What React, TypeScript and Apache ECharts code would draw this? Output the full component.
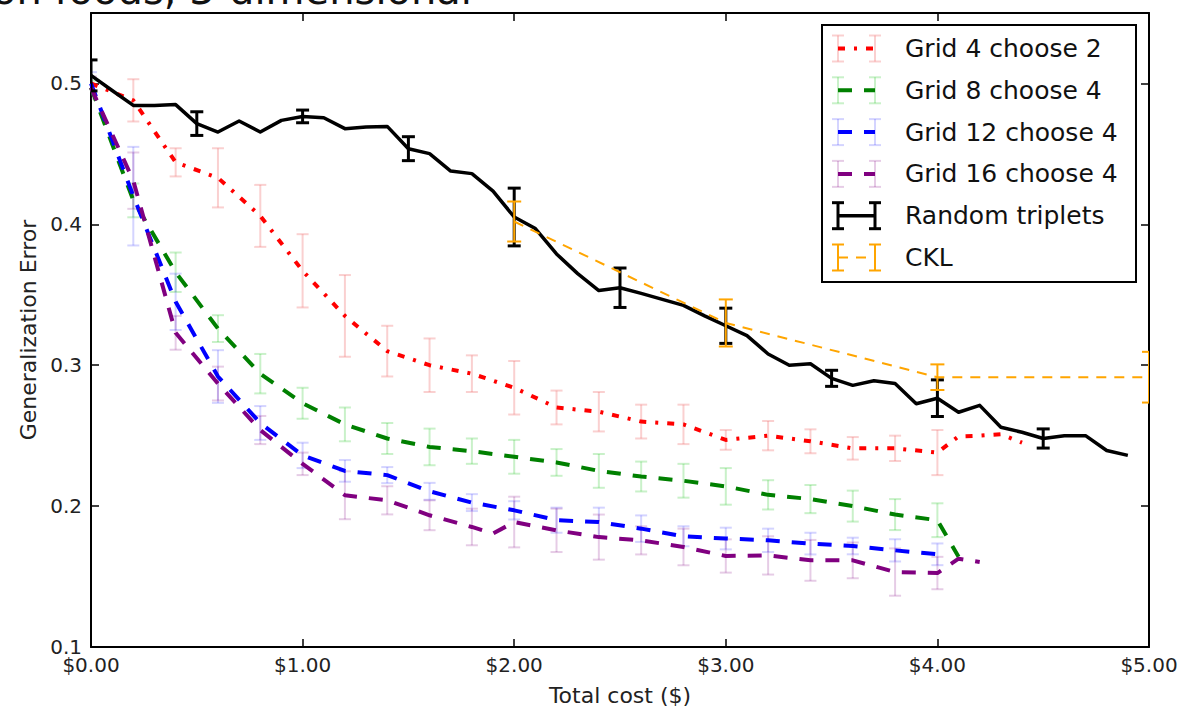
import React, { useEffect, useRef } from 'react';
import * as echarts from 'echarts';

const FONT = 'DejaVu Sans';

// Grid 4 choose 2
const g4X = [0, 0.2, 0.4, 0.6, 0.8, 1.0, 1.2, 1.4, 1.6, 1.8, 2.0, 2.2, 2.4, 2.6, 2.8, 3.0, 3.2, 3.4, 3.6, 3.8, 4.0, 4.1, 4.2, 4.3, 4.4];
const g4Y = [0.5, 0.488, 0.444, 0.433, 0.406, 0.367, 0.335, 0.31, 0.3, 0.294, 0.284, 0.27, 0.267, 0.26, 0.258, 0.247, 0.25, 0.246, 0.241, 0.241, 0.238, 0.2495, 0.25, 0.251, 0.245];
const g4Err = [null, 0.015, 0.01, 0.021, 0.022, 0.026, 0.029, 0.018, 0.019, 0.013, 0.019, 0.012, 0.014, 0.012, 0.014, 0.007, 0.0104, 0.0085, 0.008, 0.009, 0.016, null, null, null, null];

// Grid 8 choose 4
const g8X = [0, 0.2, 0.4, 0.6, 0.8, 1.0, 1.2, 1.4, 1.6, 1.8, 2.0, 2.2, 2.4, 2.6, 2.8, 3.0, 3.2, 3.4, 3.6, 3.8, 4.0, 4.1];
const g8Y = [0.497, 0.417, 0.366, 0.326, 0.294, 0.273, 0.258, 0.248, 0.242, 0.239, 0.235, 0.231, 0.225, 0.221, 0.218, 0.214, 0.208, 0.205, 0.2, 0.194, 0.19, 0.164];
const g8Err = [0.005, 0.012, 0.014, 0.0095, 0.014, 0.011, 0.012, 0.011, 0.013, 0.009, 0.012, 0.0095, 0.012, 0.0106, 0.012, 0.013, 0.0104, 0.01, 0.011, 0.011, 0.012, null];

// Grid 12 choose 4
const g12X = [0, 0.2, 0.4, 0.6, 0.8, 1.0, 1.2, 1.4, 1.6, 1.8, 2.0, 2.2, 2.4, 2.6, 2.8, 3.0, 3.2, 3.4, 3.6, 3.8, 4.0];
const g12Y = [0.5, 0.42, 0.345, 0.292, 0.259, 0.236, 0.225, 0.222, 0.2105, 0.2025, 0.197, 0.19, 0.1887, 0.184, 0.1786, 0.177, 0.1757, 0.1734, 0.1717, 0.1686, 0.1658];
const g12Err = [0.008, 0.035, 0.02, 0.0187, 0.012, 0.009, 0.0077, 0.0057, 0.006, 0.006, 0.0065, 0.0089, 0.0102, 0.0094, 0.0071, 0.0077, 0.0083, 0.0077, 0.0059, 0.0079, 0.0077];

// Grid 16 choose 4
const g16X = [0, 0.2, 0.4, 0.6, 0.8, 1.0, 1.2, 1.4, 1.6, 1.8, 1.9, 2.0, 2.2, 2.4, 2.6, 2.8, 3.0, 3.2, 3.4, 3.6, 3.8, 4.0, 4.1, 4.2];
const g16Y = [0.497, 0.431, 0.323, 0.287, 0.254, 0.23, 0.2077, 0.2041, 0.1935, 0.1852, 0.1805, 0.1887, 0.1828, 0.178, 0.1757, 0.171, 0.1646, 0.165, 0.1615, 0.1615, 0.1532, 0.1525, 0.1627, 0.1603];
const g16Err = [0.008, 0.02, 0.012, 0.012, 0.01, 0.008, 0.017, 0.01, 0.0106, 0.013, null, 0.018, 0.0154, 0.016, 0.01, 0.013, 0.0118, 0.0136, 0.0145, 0.0127, 0.0168, 0.0115, null, null];

// Random triplets
const rtX = [0, 0.1, 0.2, 0.3, 0.4, 0.5, 0.6, 0.7, 0.8, 0.9, 1.0, 1.1, 1.2, 1.3, 1.4, 1.5, 1.6, 1.7, 1.8, 1.9, 2.0, 2.1, 2.2, 2.3, 2.4, 2.5, 2.6, 2.7, 2.8, 2.9, 3.0, 3.1, 3.2, 3.3, 3.4, 3.5, 3.6, 3.7, 3.8, 3.9, 4.0, 4.1, 4.2, 4.3, 4.4, 4.5, 4.6, 4.7, 4.8, 4.9];
const rtY = [0.5057, 0.495, 0.4844, 0.4843, 0.485, 0.4715, 0.4655, 0.4733, 0.4655, 0.4738, 0.4766, 0.4757, 0.4679, 0.469, 0.4695, 0.4537, 0.4502, 0.4378, 0.436, 0.4236, 0.4052, 0.397, 0.379, 0.365, 0.353, 0.355, 0.351, 0.3467, 0.3425, 0.335, 0.328, 0.321, 0.308, 0.3, 0.301, 0.2907, 0.2857, 0.289, 0.287, 0.2727, 0.2766, 0.2666, 0.2715, 0.256, 0.2524, 0.248, 0.25, 0.25, 0.2395, 0.236];
const rtErr = [0.011, null, null, null, null, 0.0084, null, null, null, null, 0.0045, null, null, null, null, 0.0085, null, null, null, null, 0.0205, null, null, null, null, 0.014, null, null, null, null, 0.0125, null, null, null, null, 0.0057, null, null, null, null, 0.013, null, null, null, null, 0.0068, null, null, null, null];

// CKL
const cklX = [2.0, 3.0, 4.0, 5.0];
const cklY = [0.402, 0.33, 0.2915, 0.2915];
const cklErr = [0.0142, 0.0167, 0.0091, 0.018];

const xTicks = [0, 1, 2, 3, 4, 5];

type Num = number | null;

const pts = (xs: number[], ys: number[]) => xs.map((x, i) => [x, ys[i]]);
const bars = (xs: number[], ys: number[], es: Num[]) =>
  xs
    .map((x, i) => (es[i] == null ? null : [x, ys[i] - (es[i] as number), ys[i] + (es[i] as number)]))
    .filter((d) => d !== null) as number[][];

function errorBarSeries(data: number[][], color: string, width: number, capHalf: number, z: number) {
  return {
    type: 'custom',
    data,
    clip: true,
    z,
    encode: { x: 0, y: [1, 2] },
    silent: true,
    renderItem: (_p: any, api: any) => {
      const x = api.value(0);
      const top = api.coord([x, api.value(2)]);
      const bot = api.coord([x, api.value(1)]);
      const style = { stroke: color, lineWidth: width, fill: null };
      return {
        type: 'group',
        children: [
          { type: 'line', shape: { x1: top[0], y1: top[1], x2: bot[0], y2: bot[1] }, style },
          { type: 'line', shape: { x1: top[0] - capHalf, y1: top[1], x2: top[0] + capHalf, y2: top[1] }, style },
          { type: 'line', shape: { x1: bot[0] - capHalf, y1: bot[1], x2: bot[0] + capHalf, y2: bot[1] }, style },
        ],
      };
    },
  };
}

function lineSeries(name: string, data: number[][], color: string, width: number, dash: any, z: number) {
  return {
    type: 'line',
    name,
    data,
    z,
    showSymbol: false,
    symbol: 'none',
    silent: true,
    lineStyle: { color, width, type: dash, cap: 'butt', join: 'round' },
  };
}

const entries = [
  { label: 'Grid 4 choose 2', color: '#ff0000', bar: 'rgba(240,120,120,0.35)', dash: [7, 9, 3, 9], w: 4, solidBars: false },
  { label: 'Grid 8 choose 4', color: '#008000', bar: 'rgba(40,200,40,0.25)', dash: [14, 12], w: 4, solidBars: false },
  { label: 'Grid 12 choose 4', color: '#0000ff', bar: 'rgba(60,60,255,0.22)', dash: [14, 12], w: 4, solidBars: false },
  { label: 'Grid 16 choose 4', color: '#800080', bar: 'rgba(128,0,128,0.2)', dash: [14, 12], w: 4, solidBars: false },
  { label: 'Random triplets', color: '#000000', bar: '#000000', dash: 'solid', w: 3.5, solidBars: true },
  { label: 'CKL', color: '#ffa500', bar: '#ffa500', dash: [10, 8], w: 2, solidBars: true },
];

function legendGraphic() {
  const children: any[] = [
    { type: 'rect', shape: { x: 822, y: 25, width: 314, height: 257 }, style: { fill: '#fff', stroke: '#000', lineWidth: 2 } },
  ];
  entries.forEach((e, i) => {
    const yc = 48.5 + i * 41.8;
    const xa = 838;
    const xb = 875;
    const barW = e.solidBars ? (e.label === 'CKL' ? 2 : 3) : 2;
    [xa, xb].forEach((bx) => {
      children.push({ type: 'line', shape: { x1: bx, y1: yc - 13, x2: bx, y2: yc + 13 }, style: { stroke: e.bar, lineWidth: barW } });
      children.push({ type: 'line', shape: { x1: bx - 6, y1: yc - 13, x2: bx + 6, y2: yc - 13 }, style: { stroke: e.bar, lineWidth: barW } });
      children.push({ type: 'line', shape: { x1: bx - 6, y1: yc + 13, x2: bx + 6, y2: yc + 13 }, style: { stroke: e.bar, lineWidth: barW } });
    });
    children.push({
      type: 'line',
      shape: { x1: xa, y1: yc, x2: xb, y2: yc },
      style: { stroke: e.color, lineWidth: e.w, lineDash: e.dash === 'solid' ? null : e.dash },
    });
    children.push({
      type: 'text',
      x: 905,
      y: yc,
      style: { text: e.label, fill: '#111', font: `25px "${FONT}"`, verticalAlign: 'middle', align: 'left' },
    });
  });
  return { type: 'group', children, z: 100 };
}

export default function App() {
  const ref = useRef<HTMLDivElement>(null);
  useEffect(() => {
    if (!ref.current) return;
    const chart = echarts.init(ref.current, null, { renderer: 'svg' });
    const axisText = { fontFamily: FONT, fontSize: 20, color: '#222' };
    const option: any = {
      animation: false,
      backgroundColor: '#fff',
      textStyle: { fontFamily: FONT },
      grid: { left: 91, top: 13, width: 1058, height: 634, containLabel: false },
      xAxis: [
        {
          type: 'value',
          min: xTicks[0],
          max: xTicks[xTicks.length - 1],
          interval: 1,
          name: 'Total cost ($)',
          nameLocation: 'middle',
          nameGap: 37,
          nameTextStyle: { ...axisText, fontSize: 22 },
          axisLine: { onZero: false, lineStyle: { color: '#000', width: 2 } },
          axisTick: { inside: true, length: 8, lineStyle: { color: '#000', width: 1.5 } },
          axisLabel: { ...axisText, margin: 8, formatter: (v: number) => '$' + v.toFixed(2) },
          splitLine: { show: false },
        },
        {
          type: 'value',
          position: 'top',
          min: xTicks[0],
          max: xTicks[xTicks.length - 1],
          interval: 1,
          axisLine: { onZero: false, lineStyle: { color: '#000', width: 2 } },
          axisTick: { inside: true, length: 8, lineStyle: { color: '#000', width: 1.5 } },
          axisLabel: { show: false },
          splitLine: { show: false },
        },
      ],
      yAxis: [
        {
          type: 'value',
          min: 0.1,
          max: 0.55,
          interval: 0.1,
          name: 'Generalization Error',
          nameLocation: 'middle',
          nameGap: 52,
          nameTextStyle: { ...axisText, fontSize: 22 },
          axisLine: { onZero: false, lineStyle: { color: '#000', width: 2 } },
          axisTick: { inside: true, length: 8, lineStyle: { color: '#000', width: 1.5 } },
          axisLabel: {
            ...axisText,
            margin: 9,
            showMaxLabel: false,
            formatter: (v: number) => (v > 0.5 + 1e-6 ? '' : v.toFixed(1)),
          },
          splitLine: { show: false },
        },
        {
          type: 'value',
          position: 'right',
          min: 0.1,
          max: 0.55,
          interval: 0.1,
          axisLine: { onZero: false, lineStyle: { color: '#000', width: 2 } },
          axisTick: { inside: true, length: 8, lineStyle: { color: '#000', width: 1.5 } },
          axisLabel: { show: false },
          splitLine: { show: false },
        },
      ],
      graphic: [
        {
          type: 'text',
          x: -8,
          y: 10,
          style: { text: 'on foods, 3-dimensional', fill: '#111', font: `40px "${FONT}"`, verticalAlign: 'bottom', align: 'left' },
        },
        legendGraphic(),
      ],
      series: [
        errorBarSeries(bars(g4X, g4Y, g4Err), entries[0].bar, 2, 6, 1),
        lineSeries('Grid 4 choose 2', pts(g4X, g4Y), '#ff0000', 4, entries[0].dash, 2),
        errorBarSeries(bars(g8X, g8Y, g8Err), entries[1].bar, 2, 6, 1),
        lineSeries('Grid 8 choose 4', pts(g8X, g8Y), '#008000', 4, entries[1].dash, 2),
        errorBarSeries(bars(g12X, g12Y, g12Err), entries[2].bar, 2, 6, 1),
        lineSeries('Grid 12 choose 4', pts(g12X, g12Y), '#0000ff', 4, entries[2].dash, 2),
        errorBarSeries(bars(g16X, g16Y, g16Err), entries[3].bar, 2, 6, 1),
        lineSeries('Grid 16 choose 4', pts(g16X, g16Y), '#800080', 4, entries[3].dash, 2),
        lineSeries('Random triplets', pts(rtX, rtY), '#000000', 3.5, 'solid', 3),
        errorBarSeries(bars(rtX, rtY, rtErr), '#000000', 3, 6.5, 3),
        errorBarSeries(bars(cklX, cklY, cklErr), '#ffa500', 2, 7, 4),
        lineSeries('CKL', pts(cklX, cklY), '#ffa500', 2, entries[5].dash, 4),
      ],
    };
    chart.setOption(option);
    return () => chart.dispose();
  }, []);
  return (
    <div
      ref={ref}
      style={{ position: 'fixed', left: 0, top: 0, width: 1188, height: 711, background: '#fff' }}
    />
  );
}
